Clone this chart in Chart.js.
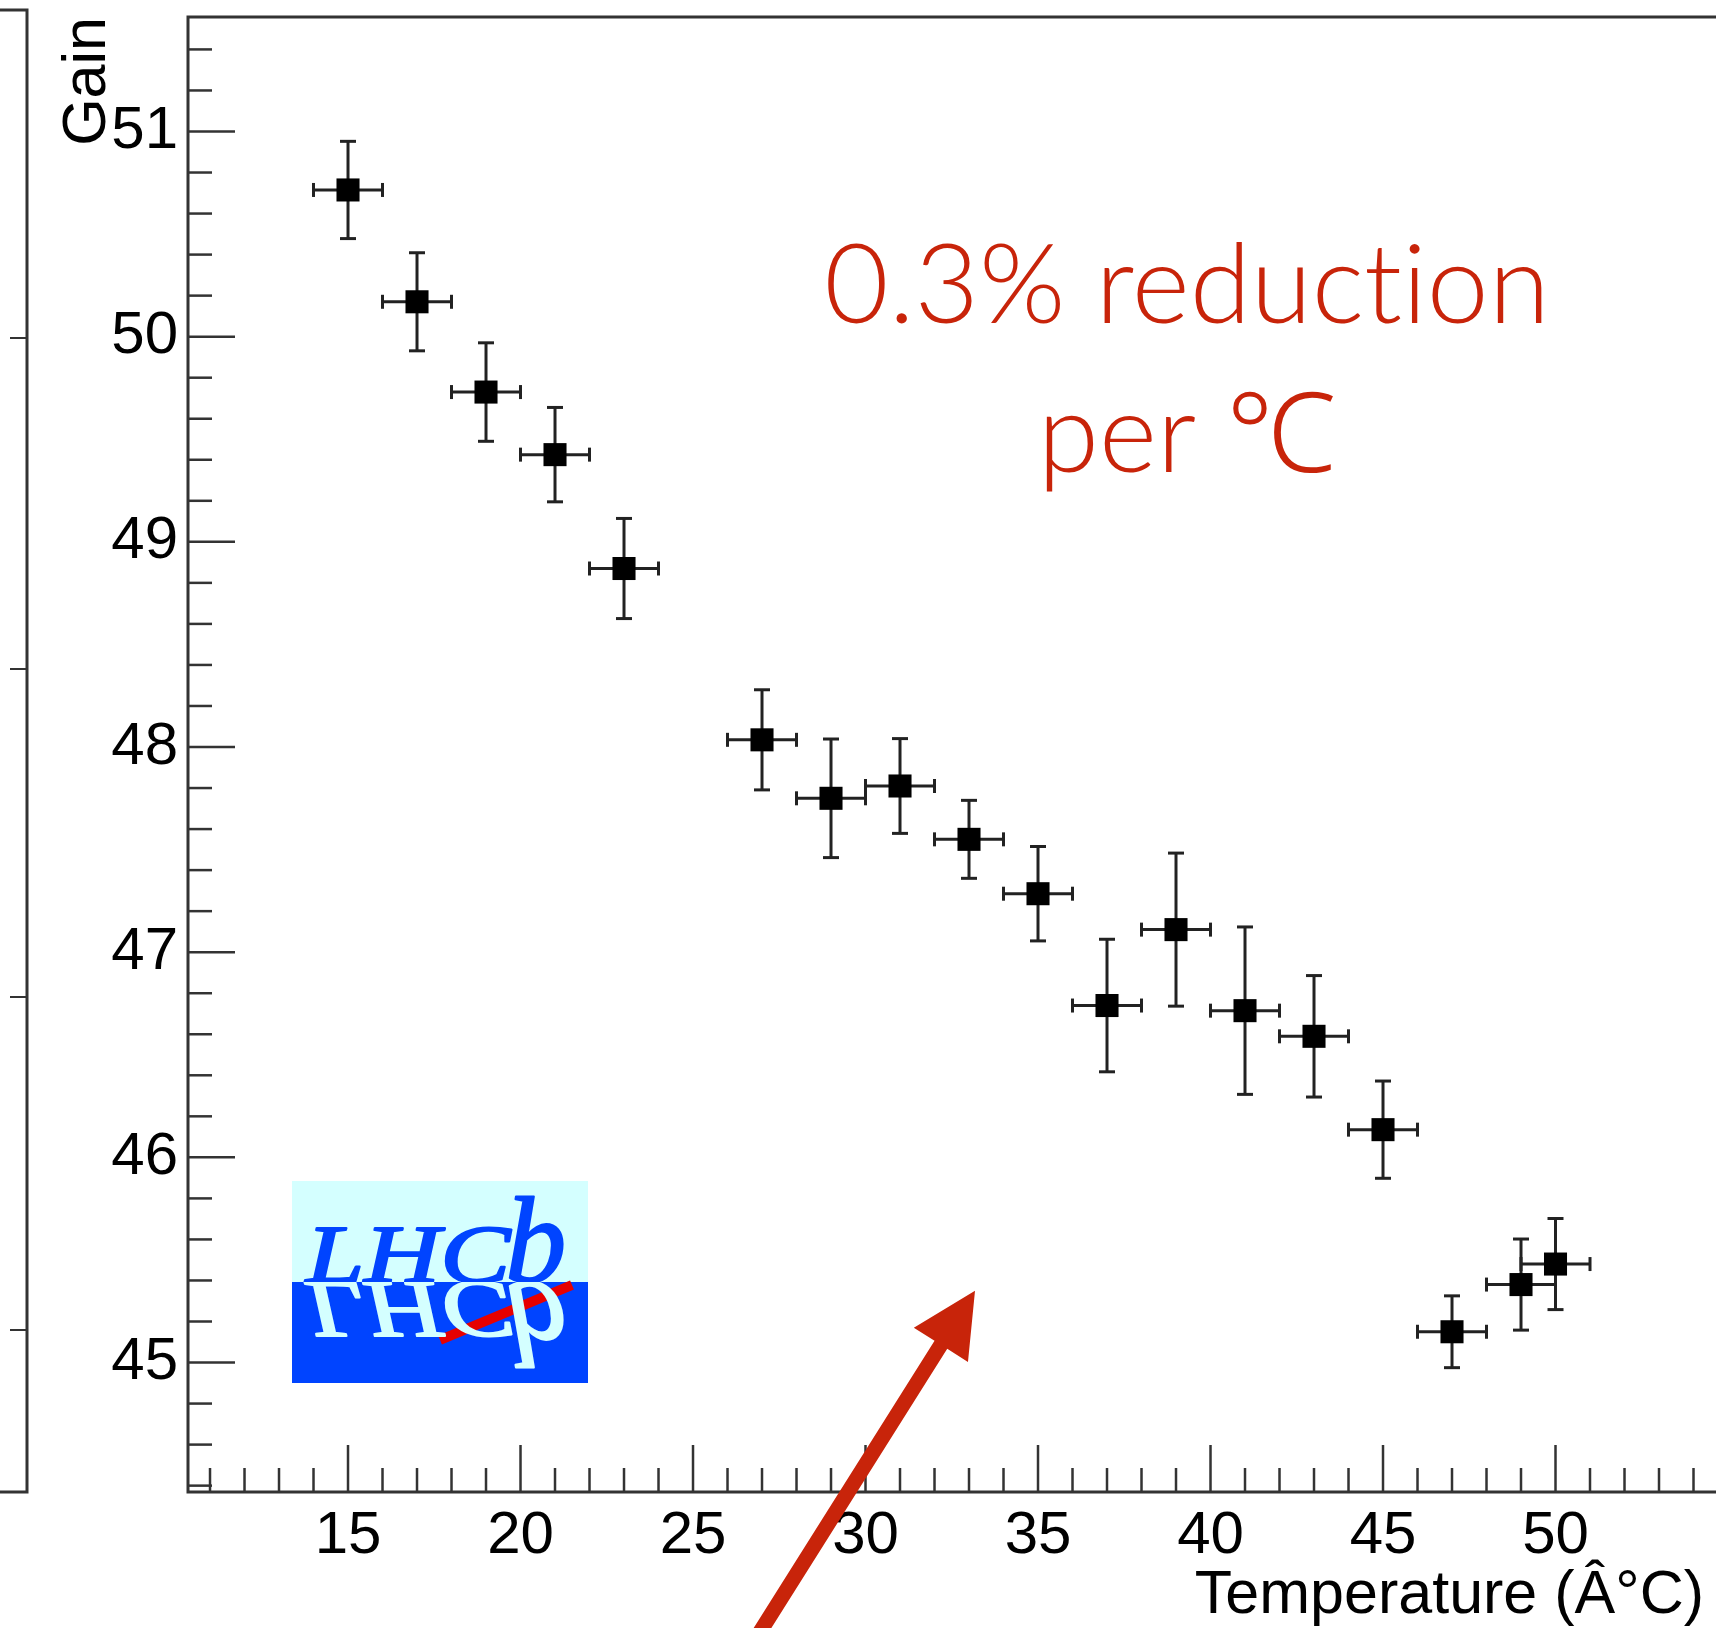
<!DOCTYPE html>
<html lang="en">
<head>
<meta charset="UTF-8">
<title>Gain vs Temperature</title>
<style>
  html, body { margin: 0; padding: 0; background: #fff; overflow: hidden; }
  #gainChart { display: block; }
</style>
</head>
<body>
<canvas id="gainChart" width="1716" height="1628"></canvas>
<script src="https://cdn.jsdelivr.net/npm/chart.js"></script>
<script>
// gain measured at each temperature step, with uncertainties
const temperatures = [15, 17, 19, 21, 23, 27, 29, 31, 33, 35, 37, 39, 41, 43, 45, 47, 49, 50];
const gains = [50.715, 50.17, 49.73, 49.425, 48.87, 48.035, 47.75, 47.81, 47.55, 47.285,
               46.74, 47.11, 46.715, 46.59, 46.135, 45.15, 45.38, 45.48];
const gainErrors = [0.237, 0.239, 0.24, 0.23, 0.244, 0.244, 0.289, 0.231, 0.19, 0.23,
                    0.323, 0.373, 0.408, 0.296, 0.237, 0.175, 0.222, 0.222];
const temperatureErrors = [1, 1, 1, 1, 1, 1, 1, 1, 1, 1, 1, 1, 1, 1, 1, 1, 1, 1];

const xTicks = [15, 20, 25, 30, 35, 40, 45, 50];
const yTicks = [45, 46, 47, 48, 49, 50, 51];

const xTitle = 'Temperature (Â°C)';
const yTitle = 'Gain';
const noteLines = ['0.3% reduction', 'per ℃'];

const RED = '#c8240a';
const AXIS_FONT = '"Liberation Sans", Arial, Helvetica, sans-serif';

// annotation placement in data units
const note = { x: 39.32, y: [50.067, 49.34] };
const arrow = { from: [27.014, 43.706], to: [33.174, 45.35] };

function line(ctx, x0, y0, x1, y1) {
  ctx.beginPath();
  ctx.moveTo(x0, y0);
  ctx.lineTo(x1, y1);
  ctx.stroke();
}

// error crosses behind the square markers
function drawErrorBars(chart) {
  const { ctx, scales: { x, y } } = chart;
  ctx.save();
  ctx.strokeStyle = '#222';
  ctx.lineWidth = 3;
  temperatures.forEach((t, i) => {
    const px = x.getPixelForValue(t);
    const py = y.getPixelForValue(gains[i]);
    const top = y.getPixelForValue(gains[i] + gainErrors[i]);
    const bot = y.getPixelForValue(gains[i] - gainErrors[i]);
    const lft = x.getPixelForValue(t - temperatureErrors[i]);
    const rgt = x.getPixelForValue(t + temperatureErrors[i]);
    line(ctx, px, top, px, bot);
    line(ctx, px - 8, top, px + 8, top);
    line(ctx, px - 8, bot, px + 8, bot);
    line(ctx, lft, py, rgt, py);
    line(ctx, lft, py - 7, lft, py + 7);
    line(ctx, rgt, py - 7, rgt, py + 7);
  });
  ctx.restore();
}

// ROOT-like frame with inward ticks
function drawFrame(chart) {
  const { ctx, chartArea: a, scales: { x, y } } = chart;
  ctx.save();
  ctx.strokeStyle = '#333';
  ctx.lineWidth = 2.5;
  for (let k = Math.ceil(y.min * 5); k <= Math.floor(y.max * 5); k++) {
    const py = y.getPixelForValue(k / 5);
    line(ctx, a.left, py, a.left + (k % 5 === 0 ? 47 : 24), py);
  }
  for (let k = Math.ceil(x.min); k <= Math.floor(x.max); k++) {
    const px = x.getPixelForValue(k);
    line(ctx, px, a.bottom, px, a.bottom - (k % 5 === 0 ? 47 : 24));
  }
  ctx.lineWidth = 3;
  ctx.beginPath();
  ctx.moveTo(chart.width, a.top);
  ctx.lineTo(a.left, a.top);
  ctx.lineTo(a.left, a.bottom);
  ctx.lineTo(chart.width, a.bottom);
  ctx.stroke();

  // edge of the neighbouring pad on the left
  ctx.beginPath();
  ctx.moveTo(0, 10);
  ctx.lineTo(27, 10);
  ctx.lineTo(27, a.bottom);
  ctx.lineTo(0, a.bottom);
  ctx.stroke();
  ctx.lineWidth = 2;
  [338, 669, 997, 1330].forEach(py => line(ctx, 10, py, 27, py));

  // axis titles
  ctx.fillStyle = '#000';
  ctx.font = '61px ' + AXIS_FONT;
  ctx.textAlign = 'right';
  ctx.textBaseline = 'alphabetic';
  ctx.fillText(xTitle, 1704, 1613);
  ctx.translate(105, 17);
  ctx.rotate(-Math.PI / 2);
  ctx.fillText(yTitle, 0, 0);
  ctx.restore();
}

function drawLogo(ctx) {
  const L = { x: 292, y: 1181, w: 296, h: 202, split: 101 };
  const base = L.y + L.split;
  const cyan = '#d4ffff';
  const blue = '#0044ff';
  ctx.save();
  ctx.fillStyle = cyan;
  ctx.fillRect(L.x, L.y, L.w, L.split);
  ctx.fillStyle = blue;
  ctx.fillRect(L.x, base, L.w, L.h - L.split);

  const word = (color, flip) => {
    ctx.save();
    ctx.beginPath();
    if (flip) ctx.rect(L.x, base, L.w, L.h - L.split);
    else ctx.rect(L.x, L.y, L.w, L.split);
    ctx.clip();
    ctx.translate(L.x + 14, base);
    if (flip) ctx.scale(1, -1);
    ctx.fillStyle = color;
    ctx.strokeStyle = color;
    ctx.lineWidth = 2;
    ctx.lineJoin = 'round';
    ctx.textAlign = 'left';
    ctx.textBaseline = 'alphabetic';
    ctx.font = 'italic 82px "Liberation Serif", "Times New Roman", serif';
    const w = ctx.measureText('LHC').width * 1.28;
    ctx.save();
    ctx.scale(1.28, 1);
    ctx.fillText('LHC', 0, 0);
    ctx.strokeText('LHC', 0, 0);
    ctx.restore();
    ctx.font = 'italic 122px "Liberation Serif", "Times New Roman", serif';
    ctx.fillText('b', w - 5, 0);
    ctx.strokeText('b', w - 5, 0);
    ctx.restore();
  };

  word(blue, false);
  ctx.strokeStyle = '#e60000';
  ctx.lineWidth = 10;
  line(ctx, 440, 1340, 572, 1285);
  word(cyan, true);
  ctx.restore();
}

function drawNote(chart) {
  const { ctx, scales: { x, y } } = chart;
  ctx.save();
  ctx.fillStyle = RED;
  ctx.font = '300 111px Lato, "Noto Sans", sans-serif';
  ctx.textAlign = 'center';
  ctx.textBaseline = 'alphabetic';
  // zero-width non-joiner keeps "t" and "i" as separate glyphs
  noteLines.forEach((s, i) => ctx.fillText(s.replace('ti', 't\u200Ci'),
    x.getPixelForValue(note.x), y.getPixelForValue(note.y[i])));

  // arrow pointing at the data
  let x0 = x.getPixelForValue(arrow.from[0]), y0 = y.getPixelForValue(arrow.from[1]);
  const x1 = x.getPixelForValue(arrow.to[0]), y1 = y.getPixelForValue(arrow.to[1]);
  const len = Math.hypot(x1 - x0, y1 - y0);
  const ux = (x1 - x0) / len, uy = (y1 - y0) / len;
  const nx = -uy, ny = ux;
  x0 -= ux * 40; y0 -= uy * 40;
  const headLen = 64, headHalf = 32, shaftHalf = 7.5;
  const bx = x1 - ux * headLen, by = y1 - uy * headLen;
  ctx.beginPath();
  ctx.moveTo(x0 + nx * shaftHalf, y0 + ny * shaftHalf);
  ctx.lineTo(bx + nx * shaftHalf, by + ny * shaftHalf);
  ctx.lineTo(bx + nx * headHalf, by + ny * headHalf);
  ctx.lineTo(x1, y1);
  ctx.lineTo(bx - nx * headHalf, by - ny * headHalf);
  ctx.lineTo(bx - nx * shaftHalf, by - ny * shaftHalf);
  ctx.lineTo(x0 - nx * shaftHalf, y0 - ny * shaftHalf);
  ctx.closePath();
  ctx.fill();
  ctx.restore();
}

const rootStyle = {
  id: 'rootStyle',
  beforeDatasetsDraw(chart) { drawErrorBars(chart); },
  afterDraw(chart) {
    drawFrame(chart);
    drawLogo(chart.ctx);
    drawNote(chart);
  }
};

new Chart(document.getElementById('gainChart'), {
  type: 'scatter',
  data: {
    datasets: [{
      data: temperatures.map((t, i) => ({ x: t, y: gains[i] })),
      pointStyle: 'rect',
      pointRadius: 16.3,
      pointHoverRadius: 16.3,
      pointBackgroundColor: '#000',
      pointBorderWidth: 0
    }]
  },
  options: {
    responsive: false,
    animation: false,
    events: [],
    layout: { autoPadding: false, padding: { top: 17, right: 0, bottom: 0, left: 0 } },
    plugins: { legend: { display: false }, tooltip: { enabled: false } },
    scales: {
      x: {
        type: 'linear',
        min: 10.362,
        max: 54.652,
        grid: { display: false },
        border: { display: false },
        afterBuildTicks: s => { s.ticks = xTicks.map(v => ({ value: v })); },
        afterFit: s => { s.height = 136; s.paddingLeft = 0; s.paddingRight = 0; },
        ticks: { padding: 0, color: '#000', maxRotation: 0, autoSkip: false,
                 font: { family: AXIS_FONT, size: 60 } }
      },
      y: {
        type: 'linear',
        min: 44.369,
        max: 51.558,
        grid: { display: false },
        border: { display: false },
        afterBuildTicks: s => { s.ticks = yTicks.map(v => ({ value: v })); },
        afterFit: s => { s.width = 188; s.paddingTop = 0; s.paddingBottom = 0; },
        ticks: { padding: 2, color: '#000', autoSkip: false,
                 font: { family: AXIS_FONT, size: 60 } }
      }
    }
  },
  plugins: [rootStyle]
});
</script>
</body>
</html>
